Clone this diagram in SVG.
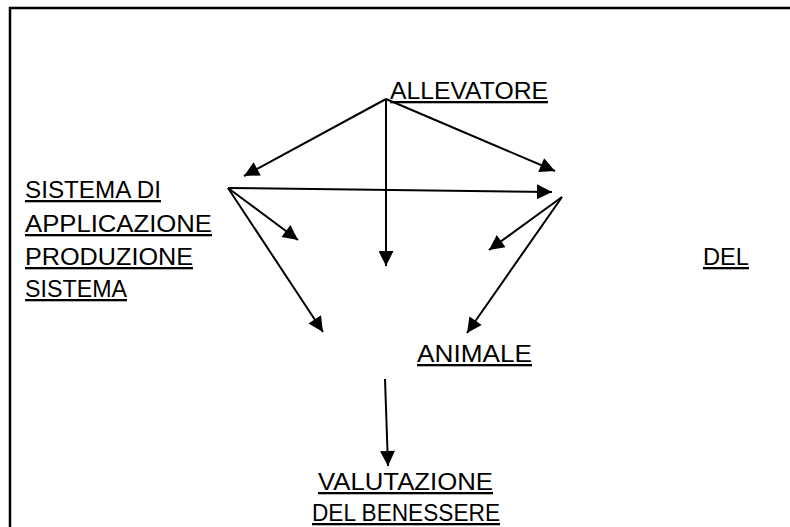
<svg xmlns="http://www.w3.org/2000/svg" width="790" height="527" viewBox="0 0 790 527">
<style>
.t{font-family:"Liberation Sans",Arial,sans-serif;font-size:23px;fill:#000;text-decoration:underline;}
.c line{stroke:#000;stroke-width:2;marker-end:url(#ah);}
</style>
<defs>
<marker id="ah" viewBox="0 0 10 10" refX="10" refY="5" markerWidth="18" markerHeight="15" markerUnits="userSpaceOnUse" orient="auto">
<path d="M0,0 L10,5 L0,10 z" fill="#000"/>
</marker>
</defs>
<rect x="0" y="0" width="790" height="527" fill="#fff"/>
<path d="M10,527 L10,8 L790,8" fill="none" stroke="#000" stroke-width="2.5"/>
<g id="allevatore"><text class="t" x="390" y="99" textLength="158" lengthAdjust="spacingAndGlyphs">ALLEVATORE</text></g>
<g id="sistema">
<text class="t" x="25" y="198" textLength="136" lengthAdjust="spacingAndGlyphs">SISTEMA DI</text>
<text class="t" x="25" y="232" textLength="187" lengthAdjust="spacingAndGlyphs">APPLICAZIONE</text>
<text class="t" x="25" y="265" textLength="168" lengthAdjust="spacingAndGlyphs">PRODUZIONE</text>
<text class="t" x="25" y="297" textLength="102" lengthAdjust="spacingAndGlyphs">SISTEMA</text>
</g>
<g id="del"><text class="t" x="703" y="265" textLength="46" lengthAdjust="spacingAndGlyphs">DEL</text></g>
<g id="animale"><text class="t" x="417" y="362" textLength="115" lengthAdjust="spacingAndGlyphs">ANIMALE</text></g>
<g id="valutazione">
<text class="t" x="318" y="490" textLength="175" lengthAdjust="spacingAndGlyphs">VALUTAZIONE</text>
<text class="t" x="312" y="521" textLength="188" lengthAdjust="spacingAndGlyphs">DEL BENESSERE</text>
</g>
<g id="connectors" class="c">
<line x1="386" y1="99" x2="244" y2="176"/>
<line x1="386" y1="99" x2="555" y2="171"/>
<line x1="386" y1="99" x2="386" y2="266"/>
<line x1="228" y1="188" x2="552" y2="192"/>
<line x1="228" y1="188" x2="298" y2="240"/>
<line x1="228" y1="188" x2="323" y2="332"/>
<line x1="562" y1="197" x2="489" y2="250"/>
<line x1="562" y1="197" x2="467" y2="333"/>
<line x1="385" y1="379" x2="388" y2="466"/>
</g>
</svg>
